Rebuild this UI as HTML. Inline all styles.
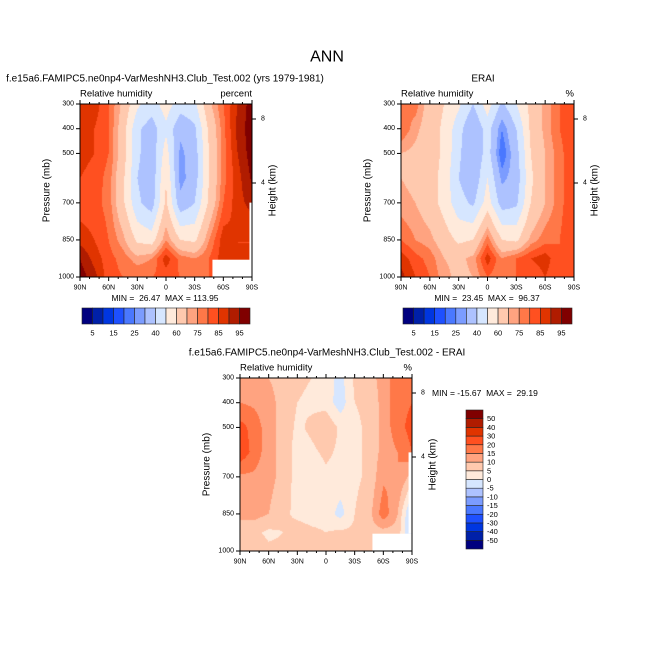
<!DOCTYPE html>
<html><head><meta charset="utf-8"><style>
body{margin:0;background:#fff;width:654px;height:654px;overflow:hidden;font-family:"Liberation Sans",sans-serif;}
svg{position:absolute;left:0;top:0}
canvas{position:absolute}
text{white-space:pre}
</style></head><body>
<canvas id="c1" width="172" height="173" style="left:80px;top:104px"></canvas>
<canvas id="c2" width="173" height="173" style="left:401px;top:104px"></canvas>
<canvas id="c3" width="172" height="173" style="left:240px;top:378px"></canvas>
<svg id="s" width="654" height="654"></svg>
<script>
const lats=["90N","75N","60N","45N","30N","15N","0","15S","30S","45S","60S","75S","90S"];
const levels=[300,400,500,600,700,850,925,1000];
const latTicks=["90N","60N","30N","0","30S","60S","90S"];
const presTicks=[300,400,500,700,850,1000];
const rhLevels=[5,10,15,20,25,30,40,50,60,70,75,80,85,90,95];
const rhLabels=["5","15","25","40","60","75","85","95"];
const diffLevels=[-50,-40,-30,-20,-15,-10,-5,0,5,10,15,20,30,40,50];
const colors=["#00007f","#0020a8","#0036e0","#1e50ff","#4a78ff","#7b9cff","#adc2ff","#d6e6ff","#ffeadb","#ffc9ae","#ffa380","#ff7848","#ff5020","#e03400","#b01c00","#800000"];
const model=[
[85,88,80,68,52,45,55,45,48,68,80,90,98],
[88,85,80,65,42,35,48,32,38,62,78,92,98],
[87,85,80,65,42,33,55,28,35,60,78,90,98],
[85,83,78,62,40,33,60,27,35,60,78,88,96],
[82,82,78,62,42,35,62,33,40,62,80,88,92],
[88,85,80,72,58,55,75,60,58,75,88,85,85],
[95,88,82,78,72,75,88,78,75,80,88,85,85],
[98,92,82,80,80,80,82,80,80,80,85,85,85]];
const erai=[
[75,78,65,60,52,40,55,38,50,63,72,80,85],
[80,72,65,58,44,30,45,25,40,62,72,80,85],
[70,68,65,58,42,30,45,20,36,60,70,78,85],
[70,68,65,56,40,32,50,28,34,58,70,78,85],
[72,70,65,56,44,38,55,35,38,60,70,78,85],
[80,75,72,65,58,60,78,60,58,72,78,80,85],
[88,82,78,70,68,72,88,75,80,85,88,80,85],
[92,85,80,72,68,70,80,75,80,80,85,80,85]];
const diff=[
[15,12,10,8,6,5,3,-2,6,8,12,18,20],
[15,14,12,8,5,4,3,-3,5,6,12,18,20],
[22,18,12,8,4,6,9,4,4,6,12,18,22],
[24,18,12,8,3,4,6,4,4,6,12,15,20],
[14,14,12,8,3,2,4,3,4,6,14,15,8],
[10,12,10,6,4,3,3,-2,5,8,18,10,-8],
[10,6,4,5,7,6,5,6,6,8,8,8,-8],
[10,8,6,6,8,10,6,8,6,6,8,8,-8]];

function colorFor(v,lv){let i=0;while(i<lv.length&&v>=lv[i])i++;return colors[i];}
function sample(grid,fx,p){
  const xi=fx*(lats.length-1);let i=Math.min(Math.floor(xi),lats.length-2);const tx=xi-i;
  let j=0;while(j<levels.length-2&&p>levels[j+1])j++;
  const ty=Math.max(0,Math.min(1,(p-levels[j])/(levels[j+1]-levels[j])));
  const a=grid[j][i]*(1-tx)+grid[j][i+1]*tx, b=grid[j+1][i]*(1-tx)+grid[j+1][i+1]*tx;
  return a*(1-ty)+b*ty;}
function drawField(id,grid,lv){
  const cv=document.getElementById(id),ctx=cv.getContext('2d'),W=cv.width,H=cv.height;
  for(let y=0;y<H;y++){const p=300+700*(y+0.5)/H;
    for(let x=0;x<W;x++){ctx.fillStyle=colorFor(sample(grid,(x+0.5)/W,p),lv);ctx.fillRect(x,y,1,1);}}}
drawField('c1',model,rhLevels);drawField('c2',erai,rhLevels);drawField('c3',diff,diffLevels);

const S=document.getElementById('s');const NS="http://www.w3.org/2000/svg";
function el(t,a,txt){const e=document.createElementNS(NS,t);for(const k in a)e.setAttribute(k,a[k]);if(txt!==undefined)e.textContent=txt;S.appendChild(e);return e;}
function text(x,y,s,size,anchor,name,rot){const a={x:x,y:y,'font-size':size,'text-anchor':anchor||'start','dominant-baseline':'central',fill:'#000'};if(rot)a.transform='rotate(-90 '+x+' '+y+')';const e=el('text',a,s);return e;}

text(327,57,"ANN",16,"middle","figure-title");
function panel(L,T,W,H,title,titleX,unit,name,minmax,mmX,mmY,mmAnchor,missing){
  missing.forEach(m=>{const r=el('rect',{x:L+m[0]*W,y:T+m[1]*H,width:m[2]*W,height:m[3]*H,fill:'#fff'});});
  const b=el('rect',{x:L,y:T,width:W,height:H,fill:'none',stroke:'#000','stroke-width':1});
  text(titleX,T-25,title,10,"middle",name+'-title');
  text(L,T-10,"Relative humidity",9.5,"start",name+'-variable-label');
  text(L+W,T-10,unit,9.5,"end",name+'-unit-label');
  latTicks.forEach((s,i)=>{const x=L+W*i/(latTicks.length-1);
    el('line',{x1:x,y1:T+H,x2:x,y2:T+H+4,stroke:'#000'});el('line',{x1:x,y1:T,x2:x,y2:T-4,stroke:'#000'});
    text(x,T+H+11,s,7,"middle",name+'-lat-tick');});
  for(let k=0;k<=18;k++){if(k%3==0)continue;const x=L+W*k/18;el('line',{x1:x,y1:T+H,x2:x,y2:T+H+2,stroke:'#000'});el('line',{x1:x,y1:T,x2:x,y2:T-2,stroke:'#000'});}
  presTicks.forEach(p=>{const y=T+H*(p-300)/700;el('line',{x1:L,y1:y,x2:L-4,y2:y,stroke:'#000'});text(L-6,y,String(p),7,"end",name+'-pressure-tick');});
  [[8,15],[4,79]].forEach(h=>{const y=T+h[1];el('line',{x1:L+W,y1:y,x2:L+W+4,y2:y,stroke:'#000'});text(L+W+9,y,String(h[0]),7,"start",name+'-height-tick');});
  text(L-33,T+H/2,"Pressure (mb)",10,"middle",name+'-y-axis-title',true);
  text(L+W+21,T+H/2,"Height (km)",10,"middle",name+'-right-axis-title',true);
  text(mmX,mmY,minmax,8.5,mmAnchor,name+'-min-max');
}
panel(80,104,172,173,"f.e15a6.FAMIPC5.ne0np4-VarMeshNH3.Club_Test.002 (yrs 1979-1981)",165,"percent","model-panel","MIN =  26.47  MAX = 113.95",165,298,"middle",[[0.77,0.9,0.23,0.1],[0.985,0.57,0.015,0.43]]);
panel(401,104,173,173,"ERAI",483,"%","erai-panel","MIN =  23.45  MAX =  96.37",487,298,"middle",[]);
panel(240,378,172,173,"f.e15a6.FAMIPC5.ne0np4-VarMeshNH3.Club_Test.002 - ERAI",327,"%","diff-panel","MIN = -15.67  MAX =  29.19",432,393,"start",[[0.77,0.9,0.23,0.1],[0.98,0.43,0.02,0.47]]);

function hbar(L,T,W,H,name){const n=colors.length,w=W/n;
  colors.forEach((c,i)=>{const r=el('rect',{x:L+i*w,y:T,width:w,height:H,fill:c,stroke:'#222','stroke-width':0.6});});
  rhLabels.forEach((s,k)=>{text(L+w*(2*k+1),T+H+9,s,7.5,"middle",name+'-label');});}
hbar(82,308,168,16,'model-colorbar');hbar(403,308,169,16,'erai-colorbar');
(function(){const L=466,T=410,W=17,H=139,n=colors.length,h=H/n;
  colors.forEach((c,i)=>{const r=el('rect',{x:L,y:T+H-(i+1)*h,width:W,height:h,fill:c,stroke:'#222','stroke-width':0.6});});
  diffLevels.forEach((v,i)=>{text(L+W+4,T+H-(i+1)*h,String(v),7.5,"start",'diff-colorbar-label');});})();
</script></body></html>
